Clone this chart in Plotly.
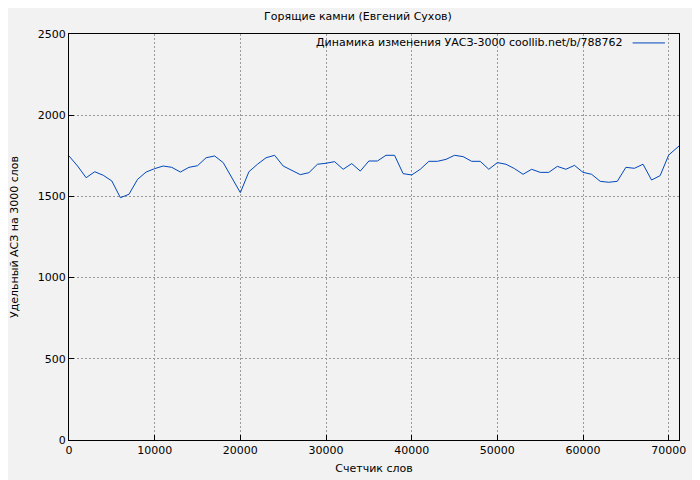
import plotly.graph_objects as go

# word counter positions (step 1000) and specific ACS values
words = list(range(0, 71000, 1000)) + [71200]
acs = [1749, 1687, 1615, 1652, 1630, 1595, 1492, 1513, 1605, 1650,
       1671, 1687, 1679, 1650, 1679, 1689, 1738, 1749, 1708, 1615,
       1523, 1652, 1698, 1738, 1753, 1687, 1662, 1634, 1646, 1698,
       1704, 1714, 1667, 1702, 1656, 1718, 1718, 1753, 1753, 1640,
       1632, 1667, 1716, 1716, 1728, 1753, 1745, 1716, 1716, 1667,
       1708, 1698, 1671, 1636, 1667, 1648, 1648, 1685, 1667, 1691,
       1648, 1636, 1593, 1587, 1593, 1679, 1673, 1698, 1601, 1628,
       1755, 1810]
legend_text = "Динамика изменения УАСЗ-3000 coollib.net/b/788762"

font = "DejaVu Sans, sans-serif"
line_color = "#0047bb"

fig = go.Figure()
fig.add_trace(go.Scatter(x=words, y=acs, mode="lines",
                         line=dict(color=line_color, width=1), showlegend=False))

axis_common = dict(
    showline=True, linecolor="black", linewidth=1, mirror=True,
    showgrid=True, gridcolor="#999999", griddash="2px,2px", gridwidth=1,
    ticks="inside", ticklen=5, tickcolor="black", zeroline=False,
    tickfont=dict(size=11, color="black"), tickformat="d", automargin=False,
)

fig.update_layout(
    width=700, height=480,
    paper_bgcolor="#f2f2f2", plot_bgcolor="#f2f2f2",
    font=dict(family=font, size=11, color="black"),
    margin=dict(l=61, r=29, t=26, b=48),
    title=dict(text="Горящие камни (Евгений Сухов)", x=0.5, xanchor="center",
               y=0.982, yanchor="middle", font=dict(size=11)),
    showlegend=False,
    xaxis=dict(axis_common, range=[0, 71200], dtick=10000,
               title=dict(text="Счетчик слов", standoff=8, font=dict(size=11))),
    yaxis=dict(axis_common, range=[0, 2500], dtick=500,
               title=dict(text="Удельный АСЗ на 3000 слов", standoff=22, font=dict(size=11))),
)

# legend drawn gnuplot-style: text then line sample on the right
fig.add_annotation(x=0.912, y=0.978, xref="paper", yref="paper", xanchor="right",
                   yanchor="middle", text=legend_text, showarrow=False,
                   font=dict(size=11))
fig.add_shape(type="line", xref="paper", yref="paper", x0=0.924, x1=0.977,
              y0=0.978, y1=0.978, line=dict(color=line_color, width=1))

fig.write_html("out.html")
